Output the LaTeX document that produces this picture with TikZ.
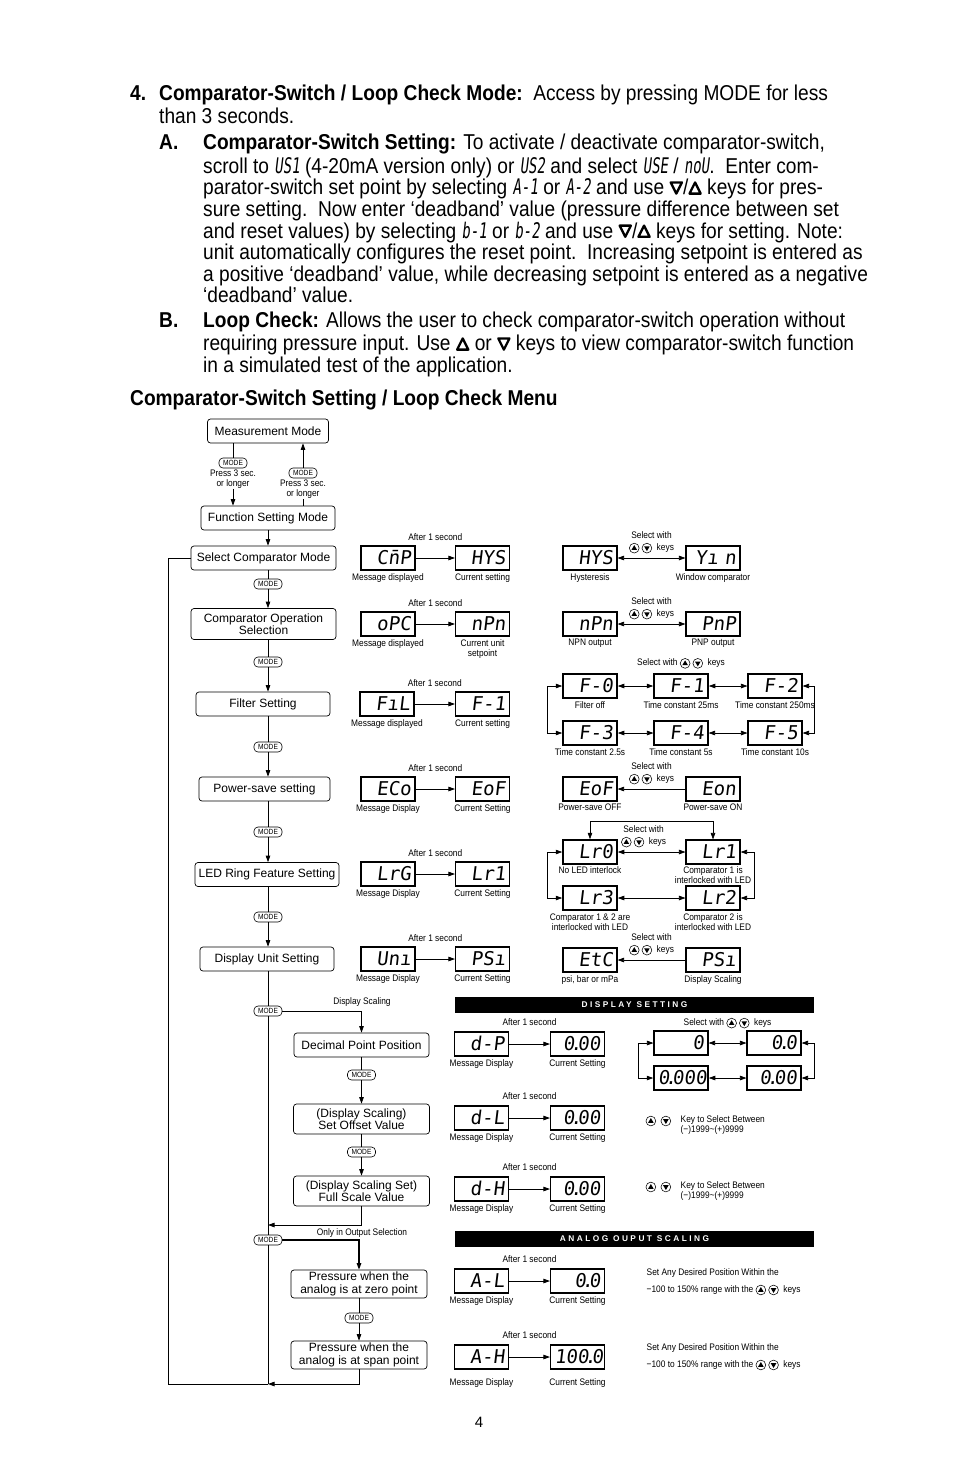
\documentclass[tikz,border=0pt]{standalone}
\usepackage{fontspec}
\setmainfont{Liberation Sans}
\newfontfamily\bodyfont[FakeStretch=0.89]{Liberation Sans}
\newfontfamily\narrowfont[FakeStretch=0.88]{Liberation Sans}
\newfontfamily\segfont[FakeSlant=0.12]{DejaVu Sans Mono}
\newfontfamily\segtext[FakeSlant=0.12,FakeStretch=0.65]{DejaVu Sans Mono}
\newfontfamily\barfont[LetterSpace=30]{Liberation Sans}
\usetikzlibrary{arrows.meta,positioning,calc}

% key symbols
\newcommand{\keyup}{\tikz[baseline=-2.6pt,x=1pt,y=1pt]{\draw[line width=0.55pt] (0,0) circle (4.9);
  \fill (0,3) -- (-2.8,-1.8) -- (2.8,-1.8) -- cycle;}}
\newcommand{\keydn}{\tikz[baseline=-2.6pt,x=1pt,y=1pt]{\draw[line width=0.55pt] (0,0) circle (4.9);
  \fill (0,-3) -- (-2.8,1.8) -- (2.8,1.8) -- cycle;}}
\newcommand{\bkeyup}{\tikz[baseline=0pt,x=1pt,y=1pt]{\draw[line width=2.3pt,line join=round]
  (-5.6,1.2) -- (5.6,1.2) -- (0,12.4) -- cycle;}}
\newcommand{\bkeydn}{\tikz[baseline=0pt,x=1pt,y=1pt]{\draw[line width=2.3pt,line join=round]
  (-5.6,12.4) -- (5.6,12.4) -- (0,1.2) -- cycle;}}
\newcommand{\sdot}{\makebox[3pt]{.}}

\begin{document}
\begin{tikzpicture}[x=1pt,y=-1pt]
    \tikzstyle{body}=[anchor=north west,inner sep=0,align=left,
        font=\bodyfont\fontsize{21.5}{21.6}\selectfont]
    \tikzstyle{menu}=[draw,rounded corners=3pt,line width=0.7pt,minimum height=24,
        inner sep=1pt,align=center,font=\fontsize{12}{12.5}\selectfont]
    \tikzstyle{disp}=[draw,line width=1.1pt,minimum height=24,text width=46,
        text height=13.5pt,text depth=0pt,inner xsep=4,inner ysep=0,align=right,
        font=\segfont\fontsize{19}{19}\selectfont]
    \tikzstyle{pill}=[draw,fill=white,rounded corners=4pt,line width=0.6pt,minimum width=28,
        minimum height=10,inner sep=0,font=\narrowfont\fontsize{7.5}{7.5}\selectfont]
    \tikzstyle{lbl}=[inner sep=0.5pt,align=center,font=\narrowfont\fontsize{9.5}{10}\selectfont]
    \tikzstyle{sel}=[lbl,font=\narrowfont\fontsize{9.5}{12.5}\selectfont]
    \tikzstyle{bar}=[fill=black,text=white,minimum width=359,minimum height=16,inner sep=0,
        font=\barfont\bfseries\fontsize{8.3}{8.3}\selectfont]
    \tikzstyle{flow}=[line width=0.7pt,-{Triangle[length=6.5pt,width=4.5pt]}]
    \tikzstyle{both}=[line width=0.7pt,{Triangle[length=6.5pt,width=4.5pt]}-{Triangle[length=6.5pt,width=4.5pt]}]
    \tikzstyle{plain}=[line width=0.7pt]
    \fill[white] (0,0) rectangle (954,1475);
    % Text
    \node[body,font=\bodyfont\bfseries\fontsize{21.5}{21.6}\selectfont] (num) at (130,85) {\strut 4.};
    \node[body] (intro) at (159,85) {\strut\textbf{Comparator-Switch / Loop Check Mode:}\ \ Access by pressing MODE for less\\
        than 3 seconds.};
    \node[body,font=\bodyfont\bfseries\fontsize{21.5}{21.6}\selectfont] (labA) at (159,134) {\strut A.};
    \node[body] (parA) at (203,134) {\strut\textbf{Comparator-Switch Setting:} To activate / deactivate comparator-switch,\\
        scroll to {\segtext US1} (4-20mA version only) or {\segtext US2} and select {\segtext USE} / {\segtext noU}.\ \ Enter com-\\
        parator-switch set point by selecting {\segtext A-1} or {\segtext A-2} and use \bkeydn/\bkeyup{} keys for pres-\\
        sure setting.\ \ Now enter ‘deadband’ value (pressure difference between set\\
        and reset values) by selecting {\segtext b-1} or {\segtext b-2} and use \bkeydn/\bkeyup{} keys for setting. Note:\\
        unit automatically configures the reset point.\ \ Increasing setpoint is entered as\\
        a positive ‘deadband’ value, while decreasing setpoint is entered as a negative\\
        ‘deadband’ value.};
    \node[body,font=\bodyfont\bfseries\fontsize{21.5}{21.6}\selectfont] (labB) at (159,312) {\strut B.};
    \node[body] (parB) at (203,312) {\strut\textbf{Loop Check:} Allows the user to check comparator-switch operation without\\
        requiring pressure input. Use \bkeyup{} or \bkeydn{} keys to view comparator-switch function\\
        in a simulated test of the application.};
    \node[body,font=\bodyfont\bfseries\fontsize{21.5}{21.6}\selectfont] (menutitle) at (130,390)
        {\strut Comparator-Switch Setting / Loop Check Menu};
    % Menu boxes
    \node[menu,minimum width=121] (meas) at (268,431) {Measurement Mode};
    \node[menu,minimum width=134] (func) at (268,518) {Function Setting Mode};
    \node[menu,minimum width=145] (selcmp) at (263.5,558) {Select Comparator Mode};
    \node[menu,minimum width=145,minimum height=31,font=\fontsize{12}{11}\selectfont] (cmpop) at (263.5,624)
        {Comparator Operation\\Selection};
    \node[menu,minimum width=134] (filt) at (263,704) {Filter Setting};
    \node[menu,minimum width=131] (psave) at (264.5,789) {Power-save setting};
    \node[menu,minimum width=144] (ledring) at (267,874.5) {LED Ring Feature Setting};
    \node[menu,minimum width=134] (dunit) at (267,959) {Display Unit Setting};
    \node[menu,minimum width=135] (dpoint) at (361.5,1045) {Decimal Point Position};
    \node[menu,minimum width=136,minimum height=30] (offset) at (361.5,1119) {(Display Scaling)\\Set Offset Value};
    \node[menu,minimum width=136,minimum height=30] (fullsc) at (361.5,1191) {(Display Scaling Set)\\Full Scale Value};
    \node[menu,minimum width=136,minimum height=28] (pzero) at (359,1284) {Pressure when the\\analog is at zero point};
    \node[menu,minimum width=136,minimum height=28] (pspan) at (359,1355) {Pressure when the\\analog is at span point};
    % MODE keys
    \coordinate (spine) at (268,0);
    \node[pill] (mA) at (233,463) {MODE};
    \node[lbl,below=0.5pt of mA] (pressA) {Press 3 sec.\\or longer};
    \node[pill] (mB) at (303,473) {MODE};
    \node[lbl,below=0.5pt of mB] (pressB) {Press 3 sec.\\or longer};
    \node[pill] (m1) at (268,584) {MODE};
    \node[pill] (m2) at (268,662) {MODE};
    \node[pill] (m3) at (268,747) {MODE};
    \node[pill] (m4) at (268,832) {MODE};
    \node[pill] (m5) at (268,917) {MODE};
    \node[pill] (m6) at (268,1011) {MODE};
    \node[pill] (m7) at (361.5,1075) {MODE};
    \node[pill] (m8) at (361.5,1152) {MODE};
    \node[pill] (m9) at (268,1240) {MODE};
    \node[pill] (m10) at (359,1318) {MODE};
    \node[lbl] (dscal) at (362,1002) {Display Scaling};
    \node[lbl] (outsel) at (362,1233.5) {Only in Output Selection};
    % Menu lines
    \draw[plain] (meas.south -| mA) -- (mA.north);
    \draw[flow] (pressA.south) -- (func.north -| pressA);
    \draw[plain] (func.north -| pressB) -- (pressB.south);
    \draw[flow] (mB.north) -- (meas.south -| mB);
    \draw[flow] (func.south -| spine) -- (selcmp.north -| spine);
    \draw[plain] (selcmp.south -| spine) -- (m1.north); \draw[flow] (m1.south) -- (cmpop.north -| spine);
    \draw[plain] (cmpop.south -| spine) -- (m2.north); \draw[flow] (m2.south) -- (filt.north -| spine);
    \draw[plain] (filt.south -| spine) -- (m3.north); \draw[flow] (m3.south) -- (psave.north -| spine);
    \draw[plain] (psave.south -| spine) -- (m4.north); \draw[flow] (m4.south) -- (ledring.north -| spine);
    \draw[plain] (ledring.south -| spine) -- (m5.north); \draw[flow] (m5.south) -- (dunit.north -| spine);
    \draw[plain] (dunit.south -| spine) -- (m6.north);
    \draw[flow] (m6.east) -| (dpoint.north);
    \draw[plain] (dpoint.south) -- (m7.north); \draw[flow] (m7.south) -- (offset.north);
    \draw[plain] (offset.south) -- (m8.north); \draw[flow] (m8.south) -- (fullsc.north);
    \coordinate (jA) at (268,1225);
    \coordinate (jB) at (268,1384);
    \coordinate (loopL) at (168,558);
    \draw[flow] (fullsc.south) |- (jA);
    \draw[plain] (m6.south) -- (m9.north);
    \draw[flow,line width=1.3pt] (m9.east) -| (pzero.north);
    \draw[plain] (pzero.south) -- (m10.north); \draw[flow] (m10.south) -- (pspan.north);
    \draw[plain] (m9.south) -- (jB);
    \draw[flow] (pspan.south) |- (jB);
    \draw[plain] (jB) -| (loopL) -- (selcmp.west);
    % Comparator mode
    \node[disp] (cmp) at (388,558) {C\=nP};
    \node[lbl,below=2pt of cmp] (cmpL) {Message displayed};
    \node[disp] (cmpcur) at (482.5,558) {HYS};
    \node[lbl,below=2pt of cmpcur] (cmpcurL) {Current setting};
    \draw[flow] (cmp) -- (cmpcur) node[lbl,midway,above=17pt] (cmpT) {After 1 second};
    \node[disp] (hys) at (590,558) {HYS};
    \node[lbl,below=2pt of hys] (hysL) {Hysteresis};
    \node[disp] (win) at (713,558) {Yı n};
    \node[lbl,below=2pt of win] (winL) {Window comparator};
    \draw[both] (hys) -- (win) node[sel,midway,above=4pt] (hysT) {Select with\\\keyup\ \keydn\ \ keys};
    % Comparator operation
    \node[disp] (opc) at (388,624) {oPC};
    \node[lbl,below=2pt of opc] (opcL) {Message displayed};
    \node[disp] (opccur) at (482.5,624) {nPn};
    \node[lbl,below=2pt of opccur] (opccurL) {Current unit\\setpoint};
    \draw[flow] (opc) -- (opccur) node[lbl,midway,above=17pt] (opcT) {After 1 second};
    \node[disp] (npn) at (590,624) {nPn};
    \node[lbl,below=2pt of npn] (npnL) {NPN output};
    \node[disp] (pnp) at (713,624) {PnP};
    \node[lbl,below=2pt of pnp] (pnpL) {PNP output};
    \draw[both] (npn) -- (pnp) node[sel,midway,above=4pt] (npnT) {Select with\\\keyup\ \keydn\ \ keys};
    % Filter
    \node[disp] (fil) at (387,704) {FıL};
    \node[lbl,below=2pt of fil] (filL) {Message displayed};
    \node[disp] (filcur) at (482.5,704) {F-1};
    \node[lbl,below=2pt of filcur] (filcurL) {Current setting};
    \draw[flow] (fil) -- (filcur) node[lbl,midway,above=17pt] (filT) {After 1 second};
    \node[disp,line width=1.5pt] (f0) at (590,686) {F-0};
    \node[lbl,below=2pt of f0] (f0L) {Filter off};
    \node[disp,line width=1.5pt] (f1) at (681,686) {F-1};
    \node[lbl,below=2pt of f1] (f1L) {Time constant 25ms};
    \node[disp] (f2) at (775,686) {F-2};
    \node[lbl,below=2pt of f2] (f2L) {Time constant 250ms};
    \node[disp,line width=1.5pt] (f3) at (590,733) {F-3};
    \node[lbl,below=2pt of f3] (f3L) {Time constant 2.5s};
    \node[disp] (f4) at (681,733) {F-4};
    \node[lbl,below=2pt of f4] (f4L) {Time constant 5s};
    \node[disp] (f5) at (775,733) {F-5};
    \node[lbl,below=2pt of f5] (f5L) {Time constant 10s};
    \node[sel,above=4pt of f1] (filS) {Select with \keyup\ \keydn\ \ keys};
    \draw[both] (f0) -- (f1); \draw[both] (f1) -- (f2);
    \draw[both] (f3) -- (f4); \draw[both] (f4) -- (f5);
    \draw[both] (f0.west) -- ++(-15,0) |- (f3.west);
    \draw[both] (f2.east) -- ++(12,0) |- (f5.east);
    % Power-save
    \node[disp] (eco) at (388,789) {ECo};
    \node[lbl,below=2pt of eco] (ecoL) {Message Display};
    \node[disp] (ecocur) at (482.5,789) {EoF};
    \node[lbl,below=2pt of ecocur] (ecocurL) {Current Setting};
    \draw[flow] (eco) -- (ecocur) node[lbl,midway,above=17pt] (ecoT) {After 1 second};
    \node[disp] (eoff) at (590,789) {EoF};
    \node[lbl,below=2pt of eoff] (eoffL) {Power-save OFF};
    \node[disp] (eon) at (713,789) {Eon};
    \node[lbl,below=2pt of eon] (eonL) {Power-save ON};
    \draw[flow] (eon) -- (eoff) node[sel,midway,above=4pt] (eonT) {Select with\\\keyup\ \keydn\ \ keys};
    % LED ring
    \node[disp] (lrg) at (388,874) {LrG};
    \node[lbl,below=2pt of lrg] (lrgL) {Message Display};
    \node[disp] (lrgcur) at (482.5,874) {Lr1};
    \node[lbl,below=2pt of lrgcur] (lrgcurL) {Current Setting};
    \draw[flow] (lrg) -- (lrgcur) node[lbl,midway,above=17pt] (lrgT) {After 1 second};
    \node[disp,line width=1.5pt] (lr0) at (590,852) {Lr0};
    \node[lbl,below=1pt of lr0] (lr0L) {No LED interlock};
    \node[disp] (lr1) at (713,852) {Lr1};
    \node[lbl,below=1pt of lr1] (lr1L) {Comparator 1 is\\interlocked with LED};
    \node[disp,line width=1.5pt] (lr3) at (590,898) {Lr3};
    \node[lbl,below=2pt of lr3] (lr3L) {Comparator 1 \& 2 are\\interlocked with LED};
    \node[disp] (lr2) at (713,898) {Lr2};
    \node[lbl,below=2pt of lr2] (lr2L) {Comparator 2 is\\interlocked with LED};
    \draw[both] (lr0) -- (lr1) node[sel,midway,above=4pt,xshift=-8pt] (lrS) {Select with\\\keyup\ \keydn\ \ keys};
    \draw[both] (lr3) -- (lr2);
    \draw[both] (lr0.north) -- ++(0,-18) -| (lr1.north);
    \draw[both] (lr0.west) -- ++(-15,0) |- (lr3.west);
    \draw[both] (lr1.east) -- ++(14,0) |- (lr2.east);
    % Display unit
    \node[disp] (uni) at (388,959) {Unı};
    \node[lbl,below=2pt of uni] (uniL) {Message Display};
    \node[disp] (unicur) at (482.5,959) {PSı};
    \node[lbl,below=2pt of unicur] (unicurL) {Current Setting};
    \draw[flow] (uni) -- (unicur) node[lbl,midway,above=17pt] (uniT) {After 1 second};
    \node[disp] (etc) at (590,960) {EtC};
    \node[lbl,below=2pt of etc] (etcL) {psi, bar or mPa};
    \node[disp] (psi) at (713,960) {PSı};
    \node[lbl,below=2pt of psi] (psiL) {Display Scaling};
    \draw[flow] (psi) -- (etc) node[sel,midway,above=4pt] (psiT) {Select with\\\keyup\ \keydn\ \ keys};
    % Display setting
    \node[bar] (dsbar) at (634.5,1005) {DISPLAY SETTING};
    \node[disp] (dp) at (481.5,1044) {d-P};
    \node[lbl,below=2pt of dp] (dpL) {Message Display};
    \node[disp] (dpcur) at (577.5,1044) {0\sdot00};
    \node[lbl,below=2pt of dpcur] (dpcurL) {Current Setting};
    \draw[flow] (dp) -- (dpcur) node[lbl,midway,above=18pt] (dpT) {After 1 second};
    \node[disp] (g0) at (681,1043) {0};
    \node[disp] (g1) at (774,1043) {0\sdot0};
    \node[disp,line width=1.5pt] (g3) at (681,1078) {0\sdot000};
    \node[disp] (g2) at (774,1078) {0\sdot00};
    \path (g0) -- (g1) node[sel,midway,above=14pt] (gS) {Select with \keyup\ \keydn\ \ keys};
    \draw[both] (g0) -- (g1); \draw[both] (g3) -- (g2);
    \draw[both] (g0.west) -- ++(-15,0) |- (g3.west);
    \draw[both] (g1.east) -- ++(13,0) |- (g2.east);
    \node[disp] (dl) at (481.5,1118) {d-L};
    \node[lbl,below=2pt of dl] (dlL) {Message Display};
    \node[disp] (dlcur) at (577.5,1118) {0\sdot00};
    \node[lbl,below=2pt of dlcur] (dlcurL) {Current Setting};
    \draw[flow] (dl) -- (dlcur) node[lbl,midway,above=18pt] (dlT) {After 1 second};
    \node[lbl,anchor=west] (dlK) at (645,1121) {\keyup\ \ \keydn};
    \node[lbl,anchor=north west,align=left,font=\narrowfont\fontsize{9.5}{9.5}\selectfont] (dlX) at (680,1115)
        {Key to Select Between\\(−)1999\textasciitilde(+)9999};
    \node[disp] (dh) at (481.5,1189) {d-H};
    \node[lbl,below=2pt of dh] (dhL) {Message Display};
    \node[disp] (dhcur) at (577.5,1189) {0\sdot00};
    \node[lbl,below=2pt of dhcur] (dhcurL) {Current Setting};
    \draw[flow] (dh) -- (dhcur) node[lbl,midway,above=18pt] (dhT) {After 1 second};
    \node[lbl,anchor=west] (dhK) at (645,1187) {\keyup\ \ \keydn};
    \node[lbl,anchor=north west,align=left,font=\narrowfont\fontsize{9.5}{9.5}\selectfont] (dhX) at (680,1181)
        {Key to Select Between\\(−)1999\textasciitilde(+)9999};
    % Analog output scaling
    \node[bar] (aobar) at (634.5,1238.5) {ANALOG OUPUT SCALING};
    \node[disp] (al) at (481.5,1281) {A-L};
    \node[lbl,below=2pt of al] (alL) {Message Display};
    \node[disp] (alcur) at (577.5,1281) {0\sdot0};
    \node[lbl,below=2pt of alcur] (alcurL) {Current Setting};
    \draw[flow] (al) -- (alcur) node[lbl,midway,above=18pt] (alT) {After 1 second};
    \node[sel,anchor=north west,align=left,font=\narrowfont\fontsize{9.5}{17}\selectfont] (alX) at (646,1268)
        {Set Any Desired Position Within the\\−100 to 150\% range with the \keyup\ \keydn\ \ keys};
    \node[disp] (ah) at (481.5,1357) {A-H};
    \node[lbl,below=8pt of ah] (ahL) {Message Display};
    \node[disp] (ahcur) at (577.5,1357) {100\sdot0};
    \node[lbl,below=8pt of ahcur] (ahcurL) {Current Setting};
    \draw[flow] (ah) -- (ahcur) node[lbl,midway,above=18pt] (ahT) {After 1 second};
    \node[sel,anchor=north west,align=left,font=\narrowfont\fontsize{9.5}{17}\selectfont] (ahX) at (646,1343)
        {Set Any Desired Position Within the\\−100 to 150\% range with the \keyup\ \keydn\ \ keys};
    % Page number
    \node[font=\fontsize{15}{15}\selectfont] (page) at (479,1422) {4};
\end{tikzpicture}
\end{document}
